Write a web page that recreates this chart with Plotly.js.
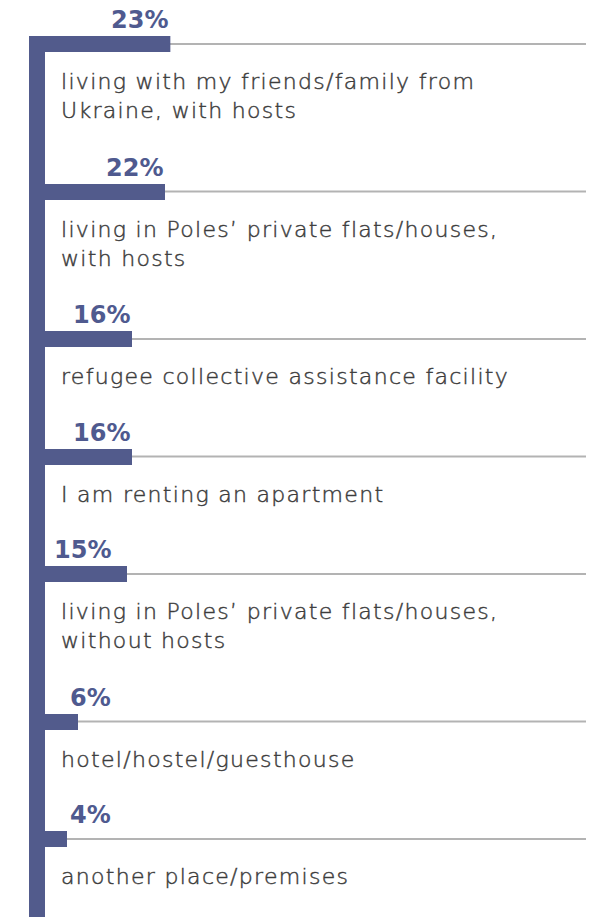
<!DOCTYPE html>
<html>
<head>
<meta charset="utf-8">
<script src="https://cdn.plot.ly/plotly-3.0.1.min.js"></script>
<style>
  html, body { margin: 0; padding: 0; background: #ffffff; }
  #chart { width: 595px; height: 917px; }
</style>
</head>
<body>
<div id="chart"></div>
<script>
// ---- data ----
const categories = [
  "living with my friends/family from<br>Ukraine, with hosts",
  "living in Poles’ private flats/houses,<br>with hosts",
  "refugee collective assistance facility",
  "I am renting an apartment",
  "living in Poles’ private flats/houses,<br>without hosts",
  "hotel/hostel/guesthouse",
  "another place/premises"
];
const values = [23, 22, 16, 16, 15, 6, 4];
const valueLabels = ["23%", "22%", "16%", "16%", "15%", "6%", "4%"];

// ---- layout helpers (pixel-based vertical axis) ----
const W = 595, H = 917;
const zeroPx = 45;          // x pixel of value 0
const pxPerUnit = 5.45;     // horizontal pixels per percentage point
const barColor = "#525b8c";
const firstY = 44, baseGap = 117.5, lineGap = 30;

const ys = [];
let cur = firstY;
categories.forEach((c, i) => {
  ys.push(cur);
  const lines = c.split("<br>").length;
  cur += baseGap + lineGap * (lines - 1);
});

const xMin = -zeroPx / pxPerUnit;
const xMax = (W - zeroPx) / pxPerUnit;

const trace = {
  type: "bar",
  orientation: "h",
  x: values,
  y: ys,
  base: 0,
  width: 16,
  marker: { color: barColor, line: { width: 0 } },
  hoverinfo: "skip"
};

const shapes = [];
ys.forEach(y => {
  shapes.push({
    type: "line", layer: "below", xref: "x", yref: "y",
    x0: -0.4, x1: (586 - zeroPx) / pxPerUnit, y0: y, y1: y,
    line: { color: "#b3b3b3", width: 2 }
  });
});
shapes.push({
  type: "rect", layer: "above", xref: "x", yref: "y",
  x0: -16 / pxPerUnit, x1: 0, y0: ys[0] - 8, y1: H + 5,
  fillcolor: barColor, line: { width: 0 }
});
shapes.push({
  type: "rect", layer: "above", xref: "x", yref: "y",
  x0: -16 / pxPerUnit, x1: values[0], y0: ys[0] - 8, y1: ys[0] + 8,
  fillcolor: barColor, line: { width: 0 }
});

const annotations = [];
categories.forEach((c, i) => {
  annotations.push({
    xref: "x", yref: "y",
    x: (59 - zeroPx) / pxPerUnit, y: ys[i] + 23,
    xanchor: "left", yanchor: "top", align: "left",
    text: c, showarrow: false, name: "cat",
    font: { family: "DejaVu Sans", size: 22, weight: 200, color: "#3c3c3c" }
  });
  const lx = values[i] >= 16 ? values[i] : 12.4;
  annotations.push({
    xref: "x", yref: "y",
    x: lx, y: ys[i] - 8,
    xanchor: "right", yanchor: "bottom",
    text: "<b>" + valueLabels[i] + "</b>", showarrow: false, name: "val",
    font: { family: "DejaVu Sans", size: 24, color: "#4f5a8f" }
  });
});

const layout = {
  width: W, height: H,
  margin: { l: 0, r: 0, t: 0, b: 0, pad: 0 },
  paper_bgcolor: "#ffffff", plot_bgcolor: "#ffffff",
  showlegend: false,
  bargap: 0,
  xaxis: { range: [xMin, xMax], visible: false, fixedrange: true },
  yaxis: { range: [H, 0], visible: false, fixedrange: true },
  shapes: shapes,
  annotations: annotations,
  hovermode: false
};

Plotly.newPlot("chart", [trace], layout, { displayModeBar: false, staticPlot: true }).then(() => {
  // widen and slightly embolden the category labels to resemble the reference's wide light typeface
  document.querySelectorAll("g.annotation").forEach((g, idx) => {
    if (idx % 2 === 0) {
      g.querySelectorAll("text.annotation-text").forEach(t => {
        t.style.letterSpacing = "1.3px";
        t.style.stroke = "#3c3c3c";
        t.style.strokeWidth = "0.45px";
      });
    }
  });
});
</script>
</body>
</html>
